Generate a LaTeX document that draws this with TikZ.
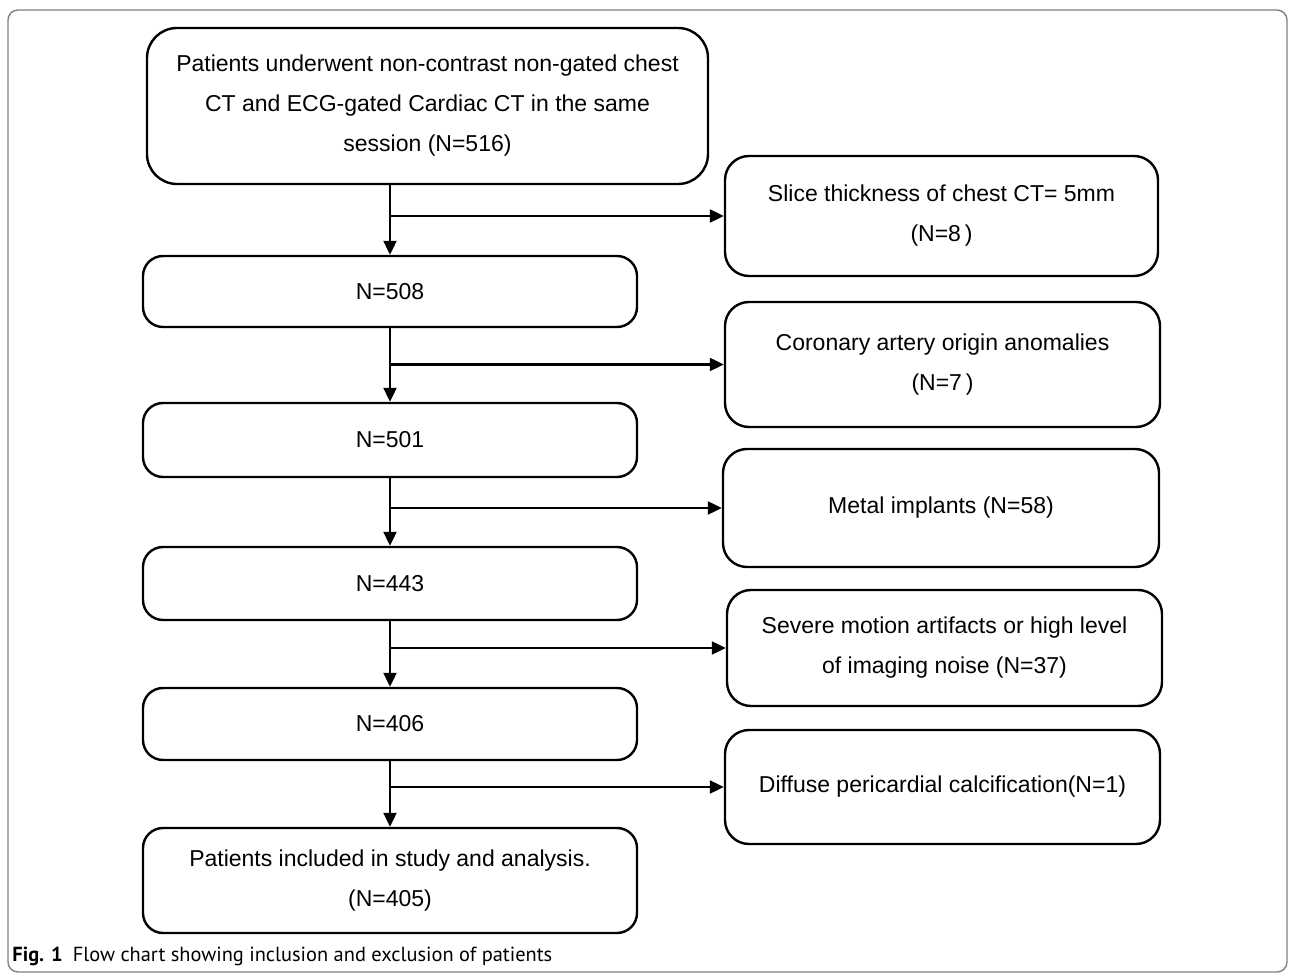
\documentclass[tikz,border=0pt]{standalone}
\usepackage{fontspec}
\setmainfont{Liberation Sans}
\newfontfamily\capfont{PT Sans}
\usetikzlibrary{arrows.meta}

\tikzset{
	box/.style={draw, line width=1.2pt, rounded corners=10pt, align=center, inner sep=0pt,
		font=\fontsize{11.5}{20}\selectfont},
	exbox/.style={box, rounded corners=12pt},
	arr/.style={line width=1.1pt, -{Triangle[length=7pt,width=6.5pt]}}
}

\begin{document}
\begin{tikzpicture}[x=0.5pt, y=-0.5pt]
	% Frame
	\useasboundingbox (0,0) rectangle (1295,977);
	\draw[gray, line width=0.7pt, rounded corners=5pt] (8,10) rectangle (1287,972);

	% Main column
	\node[box, rounded corners=15pt, minimum width=280.5pt, minimum height=78pt] (top) at (427.5,106)
		{Patients underwent non-contrast non-gated chest\\CT and ECG-gated Cardiac CT in the same\\session (N=516)};
	\node[box, minimum width=247pt, minimum height=35.5pt] (n508) at (390,291.5) {N=508};
	\node[box, minimum width=247pt, minimum height=37pt] (n501) at (390,440) {N=501};
	\node[box, minimum width=247pt, minimum height=36.5pt] (n443) at (390,583.5) {N=443};
	\node[box, minimum width=247pt, minimum height=36pt] (n406) at (390,724) {N=406};
	\node[box, minimum width=247pt, minimum height=52.5pt] (final) at (390,880.5)
		{Patients included in study and analysis.\\(N=405)};

	% Exclusions
	\node[exbox, minimum width=216.5pt, minimum height=60pt] (ex1) at (941.5,216)
		{Slice thickness of chest CT= 5mm\\(N=8\,)};
	\node[exbox, minimum width=217.5pt, minimum height=62.5pt] (ex2) at (942.5,364.5)
		{Coronary artery origin anomalies\\(N=7\,)};
	\node[exbox, minimum width=218pt, minimum height=59pt] (ex3) at (941,508)
		{Metal implants (N=58)};
	\node[exbox, minimum width=217.5pt, minimum height=58pt] (ex4) at (944.5,648)
		{Severe motion artifacts or high level\\of imaging noise (N=37)};
	\node[exbox, minimum width=217.5pt, minimum height=57pt] (ex5) at (942.5,787)
		{Diffuse pericardial calcification(N=1)};

	% Arrows
	\draw[arr] (top.south -| n508.north) -- (n508.north);
	\draw[arr] (n508.south) -- (n501.north);
	\draw[arr] (n501.south) -- (n443.north);
	\draw[arr] (n443.south) -- (n406.north);
	\draw[arr] (n406.south) -- (final.north);
	\draw[arr] (ex1.west -| n508.north) -- (ex1.west);
	\draw[arr] (ex2.west -| n508.south) -- (ex2.west);
	\draw[arr] (ex3.west -| n501.south) -- (ex3.west);
	\draw[arr] (ex4.west -| n443.south) -- (ex4.west);
	\draw[arr] (ex5.west -| n406.south) -- (ex5.west);

	% Caption
	\node[anchor=west, inner sep=0pt, font=\capfont\fontsize{10.2}{12}\selectfont] (cap) at (12,956)
		{\textbf{Fig. 1}\enspace Flow chart showing inclusion and exclusion of patients};
\end{tikzpicture}
\end{document}
